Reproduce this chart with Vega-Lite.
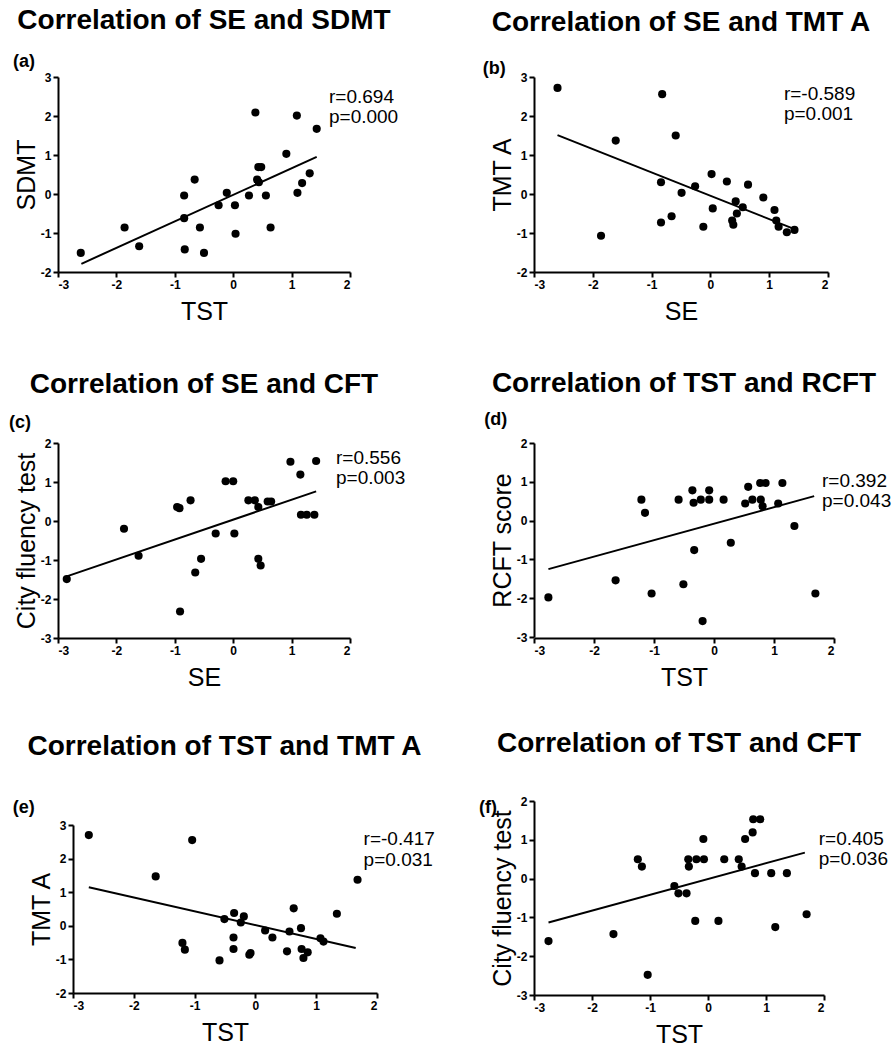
{
"$schema": "https://vega.github.io/schema/vega-lite/v6.json",
"background": "white",
"padding": {"left": 8, "top": 7, "right": 0, "bottom": 4},
"columns": 2,
"bounds": "flush",
"align": "each",
"spacing": {"row": 163, "column": 157},
"config": {
 "view": {"stroke": null},
 "font": "Liberation Sans",
 "axis": {"grid": false, "domainColor": "black", "domainWidth": 2, "tickColor": "black", "tickWidth": 2, "tickSize": 5, "labelFont": "Liberation Sans", "labelFontWeight": "bold", "labelFontSize": 12, "labelColor": "black", "labelPadding": 2, "labelExpr": "replace(datum.label, '\u2212', '-')", "titleFont": "Liberation Sans", "titleFontWeight": "normal", "titleFontSize": 25, "titleColor": "black"},
 "axisX": {"titlePadding": 9},
 "axisY": {"titlePadding": 1},
 "title": {"font": "Liberation Sans", "fontSize": 28, "fontWeight": "bold", "color": "black", "anchor": "middle", "offset": 20}
},
"concat": [
{
 "width": 292, "height": 195,
 "title": {"text": "Correlation of SE and SDMT", "offset": 18},
 "encoding": {
  "x": {"field": "x", "type": "quantitative", "scale": {"domain": [-3, 2], "nice": false, "zero": false}, "axis": {"title": "TST", "values": [-3, -2, -1, 0, 1, 2]}},
  "y": {"field": "y", "type": "quantitative", "scale": {"domain": [-2, 3], "nice": false, "zero": false}, "axis": {"title": "SDMT", "values": [-2, -1, 0, 1, 2, 3]}}
 },
 "layer": [
  {"data": {"values": [{"x":-2.61,"y":-1.51},{"x":-1.86,"y":-0.86},{"x":-1.61,"y":-1.34},{"x":-0.84,"y":-0.04},{"x":-0.84,"y":-0.62},{"x":-0.83,"y":-1.42},{"x":-0.66,"y":0.37},{"x":-0.57,"y":-0.86},{"x":-0.5,"y":-1.51},{"x":-0.25,"y":-0.29},{"x":-0.11,"y":0.03},{"x":0.03,"y":-0.29},{"x":0.04,"y":-1.02},{"x":0.27,"y":-0.04},{"x":0.38,"y":2.09},{"x":0.41,"y":0.37},{"x":0.44,"y":0.3},{"x":0.43,"y":0.69},{"x":0.48,"y":0.69},{"x":0.56,"y":-0.04},{"x":0.64,"y":-0.86},{"x":0.91,"y":1.03},{"x":1.09,"y":2.01},{"x":1.1,"y":0.03},{"x":1.18,"y":0.28},{"x":1.31,"y":0.53},{"x":1.43,"y":1.67}]},
   "mark": {"type": "circle", "color": "black", "size": 66, "opacity": 1}},
  {"data": {"values": [{"x":-2.6,"y":-1.79},{"x":1.43,"y":0.95}]}, "mark": {"type": "line", "color": "black", "strokeWidth": 2}, "encoding": {}},
  {"data": {"values": [{"x":1.64,"y":2.48,"t":"r=0.694"},{"x":1.64,"y":1.98,"t":"p=0.000"}]}, "mark": {"type": "text", "align": "left", "baseline": "middle", "fontSize": 19, "color": "black"}, "encoding": {"text": {"field": "t"}}},
  {"data": {"values": [{"x":-3.77,"y":3.38,"t":"(a)"}]}, "mark": {"type": "text", "align": "left", "baseline": "middle", "fontSize": 18, "fontWeight": "bold", "color": "black"}, "encoding": {"text": {"field": "t"}}}
 ]
},
{
 "width": 294, "height": 195,
 "title": {"text": "Correlation of SE and TMT A", "offset": 23},
 "encoding": {
  "x": {"field": "x", "type": "quantitative", "scale": {"domain": [-3, 2], "nice": false, "zero": false}, "axis": {"title": "SE", "values": [-3, -2, -1, 0, 1, 2]}},
  "y": {"field": "y", "type": "quantitative", "scale": {"domain": [-2, 3], "nice": false, "zero": false}, "axis": {"title": "TMT A", "values": [-2, -1, 0, 1, 2, 3]}}
 },
 "layer": [
  {"data": {"values": [{"x":-2.6,"y":2.72},{"x":-1.86,"y":-1.07},{"x":-1.61,"y":1.37},{"x":-0.84,"y":0.3},{"x":-0.84,"y":-0.73},{"x":-0.82,"y":2.56},{"x":-0.66,"y":-0.57},{"x":-0.59,"y":1.5},{"x":-0.49,"y":0.03},{"x":-0.26,"y":0.2},{"x":-0.12,"y":-0.84},{"x":0.02,"y":0.51},{"x":0.04,"y":-0.37},{"x":0.28,"y":0.32},{"x":0.37,"y":-0.68},{"x":0.39,"y":-0.79},{"x":0.43,"y":-0.19},{"x":0.45,"y":-0.5},{"x":0.55,"y":-0.34},{"x":0.64,"y":0.24},{"x":0.9,"y":-0.09},{"x":1.09,"y":-0.41},{"x":1.12,"y":-0.68},{"x":1.16,"y":-0.84},{"x":1.3,"y":-0.98},{"x":1.43,"y":-0.92}]},
   "mark": {"type": "circle", "color": "black", "size": 66, "opacity": 1}},
  {"data": {"values": [{"x":-2.6,"y":1.51},{"x":1.43,"y":-0.9}]}, "mark": {"type": "line", "color": "black", "strokeWidth": 2}, "encoding": {}},
  {"data": {"values": [{"x":1.25,"y":2.56,"t":"r=-0.589"},{"x":1.25,"y":2.05,"t":"p=0.001"}]}, "mark": {"type": "text", "align": "left", "baseline": "middle", "fontSize": 19, "color": "black"}, "encoding": {"text": {"field": "t"}}},
  {"data": {"values": [{"x":-3.87,"y":3.2,"t":"(b)"}]}, "mark": {"type": "text", "align": "left", "baseline": "middle", "fontSize": 18, "fontWeight": "bold", "color": "black"}, "encoding": {"text": {"field": "t"}}}
 ]
},
{
 "width": 292, "height": 203,
 "title": {"text": "Correlation of SE and CFT", "offset": 15},
 "encoding": {
  "x": {"field": "x", "type": "quantitative", "scale": {"domain": [-3, 2], "nice": false, "zero": false}, "axis": {"title": "SE", "values": [-3, -2, -1, 0, 1, 2]}},
  "y": {"field": "y", "type": "quantitative", "scale": {"domain": [-3, 2], "nice": false, "zero": false, "range": [203, 8]}, "axis": {"title": "City fluency test", "values": [-3, -2, -1, 0, 1, 2]}}
 },
 "layer": [
  {"data": {"values": [{"x":-2.85,"y":-1.49},{"x":-1.87,"y":-0.2},{"x":-1.62,"y":-0.89},{"x":-0.96,"y":0.36},{"x":-0.92,"y":0.33},{"x":-0.91,"y":-2.32},{"x":-0.73,"y":0.53},{"x":-0.65,"y":-1.32},{"x":-0.55,"y":-0.97},{"x":-0.3,"y":-0.32},{"x":-0.13,"y":1.02},{"x":0.0,"y":1.02},{"x":0.02,"y":-0.32},{"x":0.26,"y":0.53},{"x":0.37,"y":0.53},{"x":0.43,"y":0.36},{"x":0.43,"y":-0.97},{"x":0.47,"y":-1.14},{"x":0.59,"y":0.5},{"x":0.65,"y":0.5},{"x":0.98,"y":1.52},{"x":1.15,"y":1.19},{"x":1.16,"y":0.16},{"x":1.26,"y":0.16},{"x":1.39,"y":0.16},{"x":1.42,"y":1.54}]},
   "mark": {"type": "circle", "color": "black", "size": 66, "opacity": 1}},
  {"data": {"values": [{"x":-2.85,"y":-1.42},{"x":1.42,"y":0.76}]}, "mark": {"type": "line", "color": "black", "strokeWidth": 2}, "encoding": {}},
  {"data": {"values": [{"x":1.76,"y":1.62,"t":"r=0.556"},{"x":1.76,"y":1.09,"t":"p=0.003"}]}, "mark": {"type": "text", "align": "left", "baseline": "middle", "fontSize": 19, "color": "black"}, "encoding": {"text": {"field": "t"}}},
  {"data": {"values": [{"x":-3.84,"y":2.51,"t":"(c)"}]}, "mark": {"type": "text", "align": "left", "baseline": "middle", "fontSize": 18, "fontWeight": "bold", "color": "black"}, "encoding": {"text": {"field": "t"}}}
 ]
},
{
 "width": 300, "height": 203,
 "title": {"text": "Correlation of TST and RCFT", "offset": 13},
 "encoding": {
  "x": {"field": "x", "type": "quantitative", "scale": {"domain": [-3, 2], "nice": false, "zero": false}, "axis": {"title": "TST", "values": [-3, -2, -1, 0, 1, 2]}},
  "y": {"field": "y", "type": "quantitative", "scale": {"domain": [-3, 2], "nice": false, "zero": false, "range": [202, 8]}, "axis": {"title": "RCFT score", "values": [-3, -2, -1, 0, 1, 2]}}
 },
 "layer": [
  {"data": {"values": [{"x":-2.76,"y":-1.98},{"x":-1.64,"y":-1.54},{"x":-1.21,"y":0.54},{"x":-1.15,"y":0.2},{"x":-1.04,"y":-1.88},{"x":-0.59,"y":0.54},{"x":-0.51,"y":-1.64},{"x":-0.36,"y":0.78},{"x":-0.34,"y":0.46},{"x":-0.33,"y":-0.76},{"x":-0.22,"y":0.54},{"x":-0.19,"y":-2.59},{"x":-0.08,"y":0.78},{"x":-0.08,"y":0.54},{"x":0.16,"y":0.54},{"x":0.28,"y":-0.57},{"x":0.52,"y":0.44},{"x":0.57,"y":0.87},{"x":0.64,"y":0.54},{"x":0.77,"y":0.97},{"x":0.78,"y":0.54},{"x":0.81,"y":0.37},{"x":0.86,"y":0.97},{"x":1.07,"y":0.44},{"x":1.14,"y":0.97},{"x":1.34,"y":-0.14},{"x":1.69,"y":-1.88}]},
   "mark": {"type": "circle", "color": "black", "size": 66, "opacity": 1}},
  {"data": {"values": [{"x":-2.76,"y":-1.25},{"x":1.67,"y":0.63}]}, "mark": {"type": "line", "color": "black", "strokeWidth": 2}, "encoding": {}},
  {"data": {"values": [{"x":1.8,"y":1.03,"t":"r=0.392"},{"x":1.8,"y":0.51,"t":"p=0.043"}]}, "mark": {"type": "text", "align": "left", "baseline": "middle", "fontSize": 19, "color": "black"}, "encoding": {"text": {"field": "t"}}},
  {"data": {"values": [{"x":-3.83,"y":2.59,"t":"(d)"}]}, "mark": {"type": "text", "align": "left", "baseline": "middle", "fontSize": 18, "fontWeight": "bold", "color": "black"}, "encoding": {"text": {"field": "t"}}}
 ]
},
{
 "width": 319, "height": 192,
 "title": {"text": "Correlation of TST and TMT A", "dx": 7, "offset": 38},
 "encoding": {
  "x": {"field": "x", "type": "quantitative", "scale": {"domain": [-3, 2], "nice": false, "zero": false, "range": [15, 319]}, "axis": {"title": "TST", "values": [-3, -2, -1, 0, 1, 2]}},
  "y": {"field": "y", "type": "quantitative", "scale": {"domain": [-2, 3], "nice": false, "zero": false, "range": [192, 24]}, "axis": {"title": "TMT A", "values": [-2, -1, 0, 1, 2, 3], "offset": -15}}
 },
 "layer": [
  {"data": {"values": [{"x":-2.74,"y":2.7},{"x":-1.64,"y":1.47},{"x":-1.2,"y":-0.51},{"x":-1.16,"y":-0.71},{"x":-1.04,"y":2.55},{"x":-0.59,"y":-1.03},{"x":-0.51,"y":0.2},{"x":-0.36,"y":-0.35},{"x":-0.36,"y":-0.69},{"x":-0.35,"y":0.38},{"x":-0.24,"y":0.1},{"x":-0.19,"y":0.28},{"x":-0.1,"y":-0.86},{"x":-0.08,"y":-0.81},{"x":0.16,"y":-0.14},{"x":0.28,"y":-0.35},{"x":0.52,"y":-0.76},{"x":0.56,"y":-0.17},{"x":0.63,"y":0.52},{"x":0.75,"y":-0.07},{"x":0.76,"y":-0.69},{"x":0.79,"y":-0.96},{"x":0.86,"y":-0.79},{"x":1.07,"y":-0.37},{"x":1.12,"y":-0.47},{"x":1.34,"y":0.36},{"x":1.68,"y":1.37}]},
   "mark": {"type": "circle", "color": "black", "size": 66, "opacity": 1}},
  {"data": {"values": [{"x":-2.74,"y":1.15},{"x":1.65,"y":-0.66}]}, "mark": {"type": "line", "color": "black", "strokeWidth": 2}, "encoding": {}},
  {"data": {"values": [{"x":1.78,"y":2.58,"t":"r=-0.417"},{"x":1.78,"y":1.96,"t":"p=0.031"}]}, "mark": {"type": "text", "align": "left", "baseline": "middle", "fontSize": 19, "color": "black"}, "encoding": {"text": {"field": "t"}}},
  {"data": {"values": [{"x":-3.99,"y":3.51,"t":"(e)"}]}, "mark": {"type": "text", "align": "left", "baseline": "middle", "fontSize": 18, "fontWeight": "bold", "color": "black"}, "encoding": {"text": {"field": "t"}}}
 ]
},
{
 "width": 290, "height": 194,
 "title": {"text": "Correlation of TST and CFT", "offset": 37},
 "encoding": {
  "x": {"field": "x", "type": "quantitative", "scale": {"domain": [-3, 2], "nice": false, "zero": false}, "axis": {"title": "TST", "values": [-3, -2, -1, 0, 1, 2]}},
  "y": {"field": "y", "type": "quantitative", "scale": {"domain": [-3, 2], "nice": false, "zero": false}, "axis": {"title": "City fluency test", "values": [-3, -2, -1, 0, 1, 2]}}
 },
 "layer": [
  {"data": {"values": [{"x":-2.75,"y":-1.61},{"x":-1.63,"y":-1.43},{"x":-1.21,"y":0.5},{"x":-1.14,"y":0.31},{"x":-1.04,"y":-2.48},{"x":-0.58,"y":-0.19},{"x":-0.51,"y":-0.38},{"x":-0.37,"y":-0.38},{"x":-0.34,"y":0.5},{"x":-0.33,"y":0.31},{"x":-0.22,"y":-1.09},{"x":-0.2,"y":0.5},{"x":-0.08,"y":1.02},{"x":-0.07,"y":0.5},{"x":0.18,"y":-1.09},{"x":0.28,"y":0.5},{"x":0.53,"y":0.5},{"x":0.58,"y":0.31},{"x":0.64,"y":1.02},{"x":0.77,"y":1.19},{"x":0.78,"y":1.53},{"x":0.81,"y":0.14},{"x":0.9,"y":1.53},{"x":1.09,"y":0.14},{"x":1.16,"y":-1.25},{"x":1.36,"y":0.14},{"x":1.7,"y":-0.92}]},
   "mark": {"type": "circle", "color": "black", "size": 66, "opacity": 1}},
  {"data": {"values": [{"x":-2.75,"y":-1.13},{"x":1.67,"y":0.67}]}, "mark": {"type": "line", "color": "black", "strokeWidth": 2}, "encoding": {}},
  {"data": {"values": [{"x":1.91,"y":1.02,"t":"r=0.405"},{"x":1.91,"y":0.5,"t":"p=0.036"}]}, "mark": {"type": "text", "align": "left", "baseline": "middle", "fontSize": 19, "color": "black"}, "encoding": {"text": {"field": "t"}}},
  {"data": {"values": [{"x":-3.95,"y":1.82,"t":"(f)"}]}, "mark": {"type": "text", "align": "left", "baseline": "middle", "fontSize": 18, "fontWeight": "bold", "color": "black"}, "encoding": {"text": {"field": "t"}}}
 ]
}
]
}
